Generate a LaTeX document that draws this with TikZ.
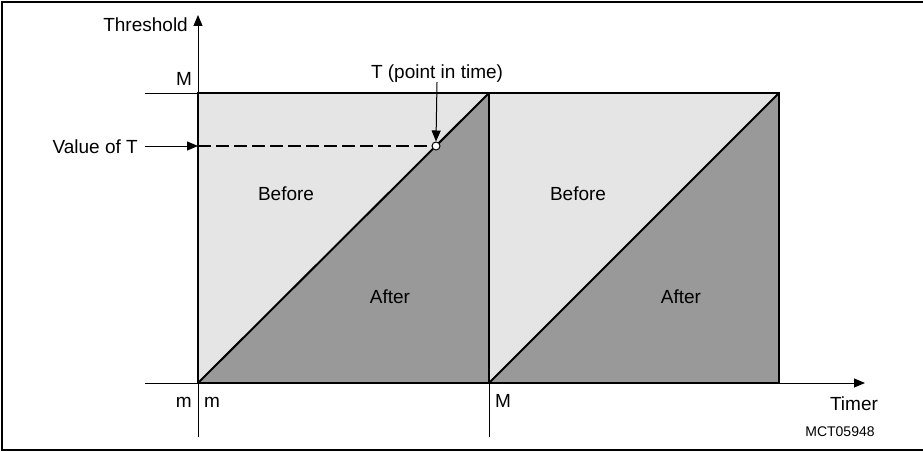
\documentclass[tikz,border=0pt]{standalone}
\usepackage{fontspec}
\setmainfont{Liberation Sans}
\usetikzlibrary{arrows.meta,positioning}

\begin{document}
\begin{tikzpicture}[x=1pt,y=-1pt,
  lbl/.style={font=\fontsize{19}{23}\selectfont,inner sep=0pt},
  small/.style={font=\fontsize{14}{17}\selectfont,inner sep=0pt},
  thinline/.style={line width=1pt},
  boxline/.style={line width=2.8pt,line join=miter},
  diag/.style={line width=2pt},
  tip/.style={-{Triangle[length=11pt,width=9pt]}}]
\useasboundingbox (0,0) rectangle (923,452);
% outer frame (right side falls outside the picture)
\draw[line width=1.5pt] (930,2) -- (2,2) -- (2,450) -- (930,450);
% corners of the two timer cycles
\coordinate (m0) at (198,383);
\coordinate (M0) at (198,93);
\coordinate (m1) at (489,383);
\coordinate (M1) at (489,93);
\coordinate (m2) at (779,383);
\coordinate (M2) at (779,93);
% regions
\fill[black!10] (m0) -- (M0) -- (M1) -- cycle;
\fill[black!40] (m0) -- (M1) -- (m1) -- cycle;
\fill[black!10] (m1) -- (M1) -- (M2) -- cycle;
\fill[black!40] (m1) -- (M2) -- (m2) -- cycle;
% axes
\coordinate (ybot) at (198,437);
\coordinate (ytop) at (198,15);
\coordinate (xleft) at (145,383);
\coordinate (xright) at (865,383);
\coordinate (mleft) at (145,93);
\coordinate (m1bot) at (489,437);
\draw[thinline,tip] (ybot) -- (ytop);
\draw[thinline,tip] (xleft) -- (xright);
\draw[thinline] (mleft) -- (M0);
\draw[thinline] (m1) -- (m1bot);
% cycle boxes
\draw[diag] (m0) -- (M1);
\draw[diag] (m1) -- (M2);
\draw[boxline] (m0) -- (M0) -- (M2) -- (m2) -- cycle;
\draw[boxline] (M1) -- (m1);
% value of T
\coordinate (vT) at (198,146);
\node[circle,draw,thinline,fill=white,inner sep=0pt,minimum size=8pt] (tc) at (436,146) {};
\draw[line width=1.6pt,dash pattern=on 13pt off 5pt] (vT) -- (tc.west);
\node[lbl,anchor=base east,inner xsep=7pt] (vt) at (145,153) {Value of T};
\draw[thinline,tip] (vt.base east |- vT) -- (vT);
\node[lbl,anchor=base] (tp) at (437,78) {T (point in time)};
\draw[thinline,tip] (tp.south) -- (tc.north);
% axis labels
\node[lbl,anchor=base east] (thr) at (188,31.5) {Threshold};
\node[lbl,anchor=base] (Mtop) at (184,85) {M};
\node[lbl,anchor=base east] (mlo) at (192,407) {m};
\node[lbl,anchor=base west] (mlx) at (204,407) {m};
\node[lbl,anchor=base west] (Mx) at (495,407) {M};
\node[lbl,anchor=base] (tim) at (854,410) {Timer};
\node[small,anchor=base] (ref) at (840,436) {MCT05948};
% region labels
\node[lbl,anchor=base] (bef1) at (286,200) {Before};
\node[lbl,anchor=base] (aft1) at (390,303) {After};
\node[lbl,anchor=base] (bef2) at (578,200) {Before};
\node[lbl,anchor=base] (aft2) at (681,303) {After};
\end{tikzpicture}
\end{document}
